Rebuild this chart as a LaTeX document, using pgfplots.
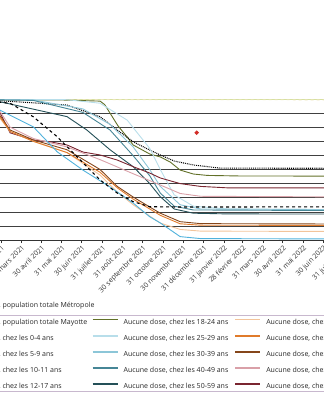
\documentclass[border=0pt]{standalone}
\usepackage{pgfplots}
\pgfplotsset{compat=1.18}
\usepackage{fontspec}
\setmainfont{Open Sans}
\definecolor{cPaleGreen}{RGB}{214,224,160}
\definecolor{cPaleYellow}{RGB}{235,228,185}
\definecolor{cOlive}{RGB}{98,112,40}
\definecolor{cSky}{RGB}{80,178,220}
\definecolor{cPaleBlue}{RGB}{184,222,234}
\definecolor{cLightBlue}{RGB}{140,198,216}
\definecolor{cTeal}{RGB}{70,134,150}
\definecolor{cDarkTeal}{RGB}{36,80,88}
\definecolor{cPeach}{RGB}{242,196,155}
\definecolor{cOrange}{RGB}{224,123,43}
\definecolor{cBrown}{RGB}{133,70,26}
\definecolor{cPink}{RGB}{217,160,168}
\definecolor{cDarkRed}{RGB}{122,37,48}
\definecolor{cFrame}{RGB}{200,184,206}
\newcommand\lentryA[1]{\makebox[136pt][l]{\rule[-5pt]{0pt}{15.7pt}\hspace{3pt}#1}}
\newcommand\lentryB[1]{\makebox[112pt][l]{\rule[-5pt]{0pt}{15.7pt}\hspace{3pt}#1}}
\begin{document}
\begin{tikzpicture}
\path[use as bounding box] (0,0) rectangle (324pt,399pt);
\clip (0,0) rectangle (324pt,399pt);
\begin{axis}[
  at={(-37.5pt,159pt)}, anchor=south west,
  scale only axis, width=396.9pt, height=141pt,
  xmin=0, xmax=600, ymin=0, ymax=100,
  axis lines=left, axis line style={-, black!80, line width=0.6pt},
  ytick={10,20,...,90}, yticklabels={}, ytick style={draw=none},
  ymajorgrids, grid style={black!75, line width=0.6pt},
  xtick={30,58,89,119,150,180,211,242,272,303,333,364,395,423,454,484,515,545,576},
  xticklabels={31 janvier 2021,28 février 2021,31 mars 2021,30 avril 2021,31 mai 2021,30 juin 2021,31 juillet 2021,31 août 2021,30 septembre 2021,31 octobre 2021,30 novembre 2021,31 décembre 2021,31 janvier 2022,28 février 2022,31 mars 2022,30 avril 2022,31 mai 2022,30 juin 2022,31 juillet 2022},
  xticklabel style={rotate=45, anchor=north east, font=\fontsize{7}{8}\selectfont, inner sep=1pt, text=black!80},
  tick align=outside, major tick length=3pt, xtick style={black!80, line width=0.5pt},
  legend columns=3,
  legend style={at={(-0.0945,-0.39)}, anchor=north west, draw=none, fill=none,
    inner sep=0pt, column sep=0pt, row sep=0pt, cells={anchor=west},
    font=\fontsize{7}{8}\selectfont, text=black!85},
  legend image code/.code={\draw[#1, line width=1.7pt] (0pt,0pt) -- (25pt,0pt);},
  every axis plot/.append style={line width=0.9pt},
]
\addplot[color=cPaleGreen, forget plot] coordinates {(0,99.8)(600,99.8)};
\addplot[color=cPaleYellow, dashed, forget plot] coordinates {(0,99.6)(600,99.4)};
\addplot[color=cOlive, forget plot] coordinates {(0,99.5)(150,99.3)(208,98.5)(215,96)(223,90)(235,81)(249,73)(258,67.4)(283,61)(299,58.9)(314,55.3)(329,49.6)(349,46.8)(370,45.8)(420,45.4)(600,45.3)};
\addplot[color=black, densely dotted, line width=1.1pt, forget plot] coordinates {(0,99.3)(57,98.8)(100,97.5)(158,95.7)(208,87.4)(234,78)(258,69.7)(283,63.8)(299,60.3)(320,56)(349,53.2)(389,51)(600,50.8)};
\addplot[color=cPaleBlue, forget plot] coordinates {(0,99.8)(158,99.5)(208,97)(249,85)(283,65)(299,50)(320,32)(349,24)(400,22)(600,21.5)};
\addplot[color=cLightBlue, forget plot] coordinates {(0,99.8)(107,99.3)(182,93)(223,82)(258,66)(283,50)(299,38)(329,25)(360,22)(600,21.5)};
\addplot[color=cTeal, forget plot] coordinates {(0,99.8)(107,99)(182,90.5)(223,78)(258,59.8)(283,45.6)(299,33.3)(320,24)(349,21.3)(600,20.8)};
\addplot[color=cDarkTeal, forget plot] coordinates {(0,99.8)(57,98)(158,87.5)(188,78)(223,64)(258,52)(283,40)(299,30.7)(320,22)(349,19)(400,18.5)(600,18.4)};
\addplot[color=cDarkRed, forget plot] coordinates {(0,99)(40,96)(57,90)(72,76)(107,70.9)(132,69.7)(158,67.4)(182,62.4)(208,60.3)(234,56.7)(258,52)(283,47.5)(299,44)(329,40)(360,38)(400,37)(600,36.9)};
\addplot[color=cPink, forget plot] coordinates {(0,99)(40,96)(57,91)(72,80)(107,72)(158,66)(208,57)(258,47)(299,39)(329,33)(360,31)(600,30.5)};
\addplot[color=cPeach, forget plot] coordinates {(0,99)(40,94)(57,86)(72,77)(107,70)(158,62)(208,46)(234,34)(258,25)(283,17)(299,12)(329,7.5)(360,6.3)(600,6)};
\addplot[color=cBrown, forget plot] coordinates {(0,99)(40,95)(57,88)(72,78)(107,71)(158,64)(208,50)(234,38)(258,30.5)(283,23.4)(299,19)(329,13)(360,11.6)(600,11.3)};
\addplot[color=cOrange, forget plot] coordinates {(0,99)(40,95)(57,87)(72,77)(107,70)(158,62)(208,48)(234,37)(258,29)(283,22)(299,17.5)(329,11.5)(360,10.5)(600,10.3)};
\addplot[color=cSky, forget plot] coordinates {(0,98)(40,95)(57,92)(107,80.3)(143,62.6)(182,49.6)(223,37.6)(258,26.2)(283,16.5)(299,12.1)(329,2.4)(360,1)(600,0.7)};
\addplot[color=black, line width=1.1pt, dash pattern=on 3pt off 3pt, forget plot] coordinates {(0,99.5)(40,98.5)(72,97)(107,87.4)(143,73.3)(173,59.1)(208,42.6)(234,33.3)(258,27.2)(283,23.6)(329,23.4)(600,23.5)};
\addplot[only marks, mark=*, mark size=1.7pt, color={rgb,255:red,210;green,45;blue,40}, forget plot] coordinates {(354,76.1)};
% legend
\addlegendimage{color=black, dash pattern=on 3pt off 3pt}\addlegendentry{\lentryA{Aucune dose, population totale Métropole}}
\addlegendimage{legend image code/.code={}}\addlegendentry{\lentryB{}}
\addlegendimage{legend image code/.code={}}\addlegendentry{\lentryB{}}
\addlegendimage{color=black, densely dotted}\addlegendentry{\lentryA{Aucune dose, population totale Mayotte}}
\addlegendimage{color=cOlive}\addlegendentry{\lentryB{Aucune dose, chez les 18-24 ans}}
\addlegendimage{color=cPeach}\addlegendentry{\lentryB{Aucune dose, chez les 60-64 ans}}
\addlegendimage{color=cPaleGreen}\addlegendentry{\lentryA{Aucune dose, chez les 0-4 ans}}
\addlegendimage{color=cPaleBlue}\addlegendentry{\lentryB{Aucune dose, chez les 25-29 ans}}
\addlegendimage{color=cOrange}\addlegendentry{\lentryB{Aucune dose, chez les 65-69 ans}}
\addlegendimage{color=cPaleYellow}\addlegendentry{\lentryA{Aucune dose, chez les 5-9 ans}}
\addlegendimage{color=cLightBlue}\addlegendentry{\lentryB{Aucune dose, chez les 30-39 ans}}
\addlegendimage{color=cBrown}\addlegendentry{\lentryB{Aucune dose, chez les 70-74 ans}}
\addlegendimage{color=cSky}\addlegendentry{\lentryA{Aucune dose, chez les 10-11 ans}}
\addlegendimage{color=cTeal}\addlegendentry{\lentryB{Aucune dose, chez les 40-49 ans}}
\addlegendimage{color=cPink}\addlegendentry{\lentryB{Aucune dose, chez les 75-79 ans}}
\addlegendimage{color=cDarkRed}\addlegendentry{\lentryA{Aucune dose, chez les 12-17 ans}}
\addlegendimage{color=cDarkTeal}\addlegendentry{\lentryB{Aucune dose, chez les 50-59 ans}}
\addlegendimage{color=cDarkRed}\addlegendentry{\lentryB{Aucune dose, chez les 80 ans et plus}}
\end{axis}
\draw[cFrame, line width=0.8pt] (0,84pt) -- (324pt,84pt);
\draw[cFrame, line width=0.8pt] (0,8pt) -- (324pt,8pt);
\end{tikzpicture}
\end{document}
